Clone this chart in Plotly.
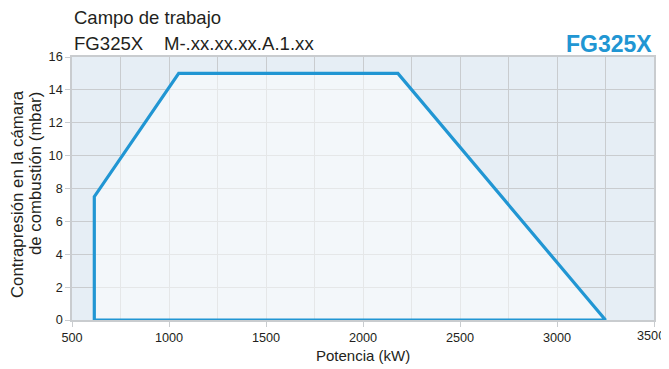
import plotly.graph_objects as go

# Working-field polygon (power kW, back-pressure mbar)
power_kw = [615, 615, 1050, 2180, 3250, 615]
pressure_mbar = [0, 7.5, 15, 15, 0, 0]

x_ticks = [500, 1000, 1500, 2000, 2500, 3000, 3500]
x_tick_text = ["500", "1000", "1500", "2000", "2500", "3000", ""]
last_x_label = "3500"
y_ticks = [0, 2, 4, 6, 8, 10, 12, 14, 16]

FONT = "Liberation Sans, Arial, sans-serif"
TEXT = "#231f20"
BLUE = "#2196d3"
GRID = "#c9cccf"

fig = go.Figure()
fig.add_trace(go.Scatter(
    x=power_kw, y=pressure_mbar, mode="lines", fill="toself",
    fillcolor="rgba(255,255,255,0.52)",
    line=dict(color=BLUE, width=3.2), hoverinfo="skip", showlegend=False,
))

# page body has an 8px default margin, so the figure is sized to fit the window
fig.update_layout(
    width=661, height=361,
    margin=dict(l=64, r=15, t=49, b=49, autoexpand=False),
    paper_bgcolor="white", plot_bgcolor="#e6eef5",
    font=dict(family=FONT, color=TEXT, size=13),
    showlegend=False,
)
fig.update_xaxes(
    range=[500, 3500], tickvals=x_ticks, ticktext=x_tick_text,
    ticks="outside", ticklen=5, tickcolor=GRID,
    showgrid=True, gridcolor=GRID, gridwidth=1, automargin=False,
    minor=dict(dtick=250, tick0=500, showgrid=True, gridcolor=GRID, gridwidth=1, ticks=""),
    showline=True, linecolor=GRID, linewidth=1.5, mirror=True, zeroline=False,
    tickfont=dict(size=12.7, color=TEXT),
)
fig.update_yaxes(
    range=[0, 16], tickvals=y_ticks, ticks="outside", ticklen=5, tickcolor=GRID,
    showgrid=True, gridcolor=GRID, gridwidth=1, automargin=False,
    showline=True, linecolor=GRID, linewidth=1.5, mirror=True, zeroline=False,
    tickfont=dict(size=12.7, color=TEXT),
)

anns = [
    dict(text="Campo de trabajo", x=0, y=1, xref="paper", yref="paper",
         xanchor="left", yanchor="middle", xshift=0, yshift=40,
         font=dict(size=18.5, color=TEXT), showarrow=False),
    dict(text="FG325X    M-.xx.xx.xx.A.1.xx", x=0, y=1, xref="paper", yref="paper",
         xanchor="left", yanchor="middle", xshift=0, yshift=14,
         font=dict(size=18.6, color=TEXT), showarrow=False),
    dict(text="<b>FG325X</b>", x=1, y=1, xref="paper", yref="paper",
         xanchor="right", yanchor="middle", xshift=0, yshift=13,
         font=dict(size=23, color=BLUE), showarrow=False),
    dict(text=last_x_label, x=x_ticks[-1], y=0, xref="x", yref="paper",
         xanchor="center", yanchor="middle", xshift=-3, yshift=-16,
         borderpad=0, font=dict(size=12.7, color=TEXT), showarrow=False),
    dict(text="Potencia (kW)", x=0.5, y=0, xref="paper", yref="paper",
         xanchor="center", yanchor="middle", yshift=-35,
         font=dict(size=15, color=TEXT), showarrow=False),
    dict(text="Contrapresión en la cámara", x=0, y=0.5,
         xref="paper", yref="paper", xanchor="center", yanchor="middle",
         xshift=-55, yshift=-5.5, textangle=-90,
         font=dict(size=16.8, color=TEXT), showarrow=False),
    dict(text="de combustión (mbar)", x=0, y=0.5,
         xref="paper", yref="paper", xanchor="center", yanchor="middle",
         xshift=-37, yshift=14.5, textangle=-90,
         font=dict(size=16.8, color=TEXT), showarrow=False),
]
fig.update_layout(annotations=anns)

fig.write_html("out.html")
